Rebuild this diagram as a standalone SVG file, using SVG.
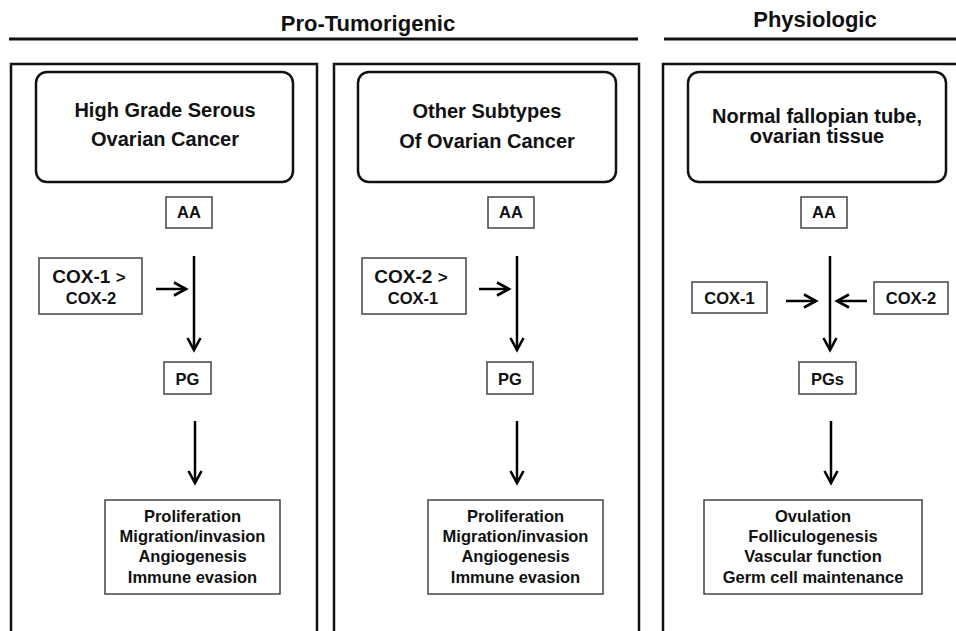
<svg xmlns="http://www.w3.org/2000/svg" width="956" height="631" viewBox="0 0 956 631">
<style>
text{font-family:"Liberation Sans",Arial,sans-serif;font-weight:bold;fill:#111;text-anchor:middle}
.hdr{font-size:22px}
.ttl{font-size:20px}
.sm{font-size:16.5px}
.res{font-size:16.5px}
.cox{font-size:19px}
.panel{fill:none;stroke:#111;stroke-width:2.5}
.rbox{fill:#fff;stroke:#111;stroke-width:2.5}
.box{fill:#fff;stroke:#444;stroke-width:1.5}
.hline{stroke:#111;stroke-width:3}
.conn{stroke:#000;stroke-width:2.5;fill:none;marker-end:url(#ah)}
</style>
<defs>
<marker id="ah" markerUnits="userSpaceOnUse" markerWidth="18" markerHeight="18" refX="15" refY="9" orient="auto">
<path d="M3,2.5 L15,9 L3,15.5" fill="none" stroke="#000" stroke-width="2.6"/>
</marker>
</defs>
<rect width="956" height="631" fill="#fff"/>
<g id="headers">
<text class="hdr" x="368" y="31">Pro-Tumorigenic</text>
<line class="hline" x1="9" y1="39" x2="638" y2="39"/>
<text class="hdr" x="815" y="27">Physiologic</text>
<line class="hline" x1="664" y1="39" x2="960" y2="39"/>
</g>
<g id="panel1">
<rect class="panel" x="11" y="64" width="306" height="600"/>
<g id="p1-title"><rect class="rbox" x="36" y="72" width="257" height="110" rx="11"/>
<text class="ttl" x="165" y="117">High Grade Serous</text>
<text class="ttl" x="165" y="146">Ovarian Cancer</text></g>
<g id="p1-aa"><rect class="box" x="166" y="197" width="46" height="31"/><text class="sm" x="189" y="218">AA</text></g>
<g id="p1-cox"><rect class="box" x="39" y="258" width="103" height="56"/>
<text class="cox" x="89" y="283">COX-1 <tspan style="font-size:17px">&gt;</tspan></text>
<text class="sm" x="91" y="304">COX-2</text></g>
<g id="p1-pg"><rect class="box" x="164" y="362" width="47" height="32"/><text class="sm" x="187.5" y="385">PG</text></g>
<g id="p1-res"><rect class="box" x="105" y="500" width="175" height="94"/>
<text class="res" x="192.5" y="522">Proliferation</text>
<text class="res" x="192.5" y="542">Migration/invasion</text>
<text class="res" x="192.5" y="562">Angiogenesis</text>
<text class="res" x="192.5" y="583">Immune evasion</text></g>
</g>
<g id="panel2">
<rect class="panel" x="334" y="64" width="305" height="600"/>
<g id="p2-title"><rect class="rbox" x="358" y="72" width="258" height="110" rx="11"/>
<text class="ttl" x="487" y="118">Other Subtypes</text>
<text class="ttl" x="487" y="148">Of Ovarian Cancer</text></g>
<g id="p2-aa"><rect class="box" x="488" y="197" width="46" height="31"/><text class="sm" x="511" y="218">AA</text></g>
<g id="p2-cox"><rect class="box" x="362" y="258" width="104" height="56"/>
<text class="cox" x="411" y="283">COX-2 <tspan style="font-size:17px">&gt;</tspan></text>
<text class="sm" x="413" y="304">COX-1</text></g>
<g id="p2-pg"><rect class="box" x="487" y="362" width="46" height="32"/><text class="sm" x="510" y="385">PG</text></g>
<g id="p2-res"><rect class="box" x="428" y="500" width="175" height="94"/>
<text class="res" x="515.5" y="522">Proliferation</text>
<text class="res" x="515.5" y="542">Migration/invasion</text>
<text class="res" x="515.5" y="562">Angiogenesis</text>
<text class="res" x="515.5" y="583">Immune evasion</text></g>
</g>
<g id="panel3">
<rect class="panel" x="663" y="64" width="320" height="600"/>
<g id="p3-title"><rect class="rbox" x="688" y="72" width="258" height="110" rx="11"/>
<text class="ttl" x="817" y="123">Normal fallopian tube,</text>
<text class="ttl" x="817" y="143">ovarian tissue</text></g>
<g id="p3-aa"><rect class="box" x="801" y="197" width="46" height="31"/><text class="sm" x="824" y="218">AA</text></g>
<g id="p3-cox1"><rect class="box" x="692" y="282" width="75" height="31"/><text class="sm" x="729.5" y="304">COX-1</text></g>
<g id="p3-cox2"><rect class="box" x="874" y="282" width="74" height="32"/><text class="sm" x="911" y="304">COX-2</text></g>
<g id="p3-pg"><rect class="box" x="799" y="362" width="57" height="32"/><text class="sm" x="827.5" y="385">PGs</text></g>
<g id="p3-res"><rect class="box" x="704" y="500" width="218" height="94"/>
<text class="res" x="813" y="522">Ovulation</text>
<text class="res" x="813" y="542">Folliculogenesis</text>
<text class="res" x="813" y="562">Vascular function</text>
<text class="res" x="813" y="583">Germ cell maintenance</text></g>
</g>
<g id="connectors">
<line class="conn" x1="194" y1="256" x2="194" y2="350"/>
<line class="conn" x1="156" y1="289" x2="186" y2="289"/>
<line class="conn" x1="195" y1="421" x2="195" y2="483"/>
<line class="conn" x1="517" y1="256" x2="517" y2="350"/>
<line class="conn" x1="479" y1="289" x2="509" y2="289"/>
<line class="conn" x1="517" y1="421" x2="517" y2="483"/>
<line class="conn" x1="830" y1="256" x2="830" y2="350"/>
<line class="conn" x1="786" y1="301" x2="816" y2="301"/>
<line class="conn" x1="867" y1="301" x2="837" y2="301"/>
<line class="conn" x1="831" y1="421" x2="831" y2="483"/>
</g>
</svg>
